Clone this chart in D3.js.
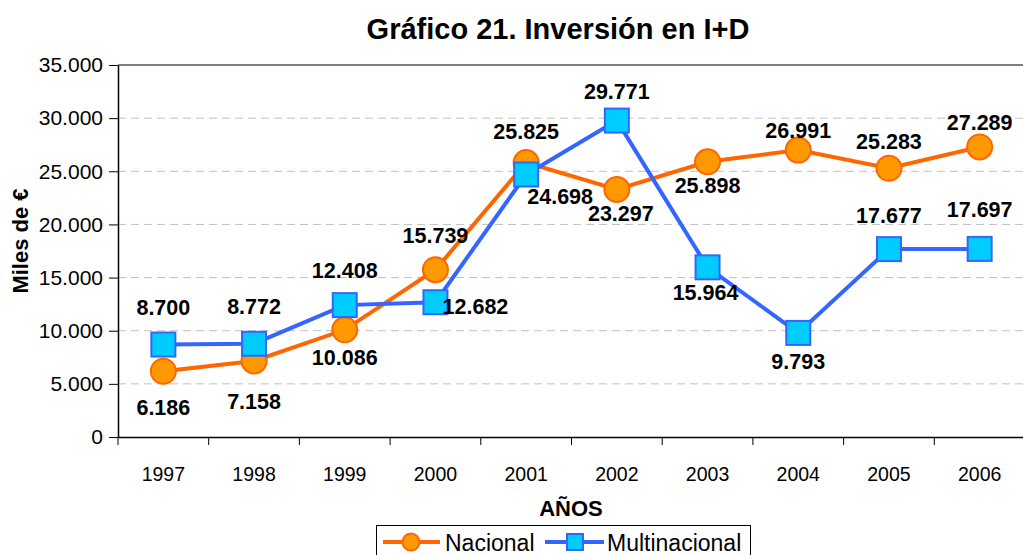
<!DOCTYPE html>
<html>
<head>
<meta charset="utf-8">
<script src="https://cdn.jsdelivr.net/npm/d3@7"></script>
<style>
  body { margin: 0; background: #fff; }
  svg { display: block; font-family: Arial, "Liberation Sans", sans-serif; }
</style>
</head>
<body>
<svg id="chart"></svg>
<script>
//------ Données ------
const years = ["1997", "1998", "1999", "2000", "2001", "2002", "2003", "2004", "2005", "2006"]
const nacional = [6186, 7158, 10086, 15739, 25825, 23297, 25898, 26991, 25283, 27289]
const multinacional = [8700, 8772, 12408, 12682, 24698, 29771, 15964, 9793, 17677, 17697]
const yTicks = [0, 5000, 10000, 15000, 20000, 25000, 30000, 35000]

// position des étiquettes (dx, dy) par point
const labelNac = [[0, 36], [0, 41], [0, 28], [0, -34], [0, -31], [4, 24], [0, 24], [0, -20], [0, -27], [0, -24]]
const labelMul = [[0, -37], [0, -37], [0, -35], [40, 4], [34, 22], [0, -29], [-2, 25], [0, 29], [0, -34], [0, -39]]

//taille du cadre
const width = 1023, height = 555
const margin = { left: 118, right: 1025, top: 65, bottom: 437 }

const svg = d3.select("#chart")
    .attr("width", width)
    .attr("height", height)

const fmt = d3.formatLocale({ decimal: ",", thousands: ".", grouping: [3], currency: ["", "€"] }).format(",d")

// échelles
const x = d3.scaleBand().domain(years).range([margin.left, margin.right])
const y = d3.scaleLinear().domain([0, 35000]).range([margin.bottom, margin.top])

// grille
svg.append("g")
    .selectAll("line")
    .data(yTicks.filter(t => t > 0 && t < 35000))
    .enter()
    .append("line")
    .attr("x1", margin.left).attr("x2", margin.right)
    .attr("y1", d => y(d)).attr("y2", d => y(d))
    .attr("stroke", "#c0c0c0")
    .attr("stroke-width", 1)
    .attr("stroke-dasharray", "8,5")

// bord supérieur
svg.append("line")
    .attr("x1", margin.left).attr("x2", margin.right)
    .attr("y1", y(35000)).attr("y2", y(35000))
    .attr("stroke", "#808080")
    .attr("stroke-width", 2)

// axe Y
const yAxis = svg.append("g")
    .attr("transform", `translate(${margin.left},0)`)
    .call(d3.axisLeft(y).tickValues(yTicks).tickFormat(fmt).tickSize(9).tickSizeOuter(0).tickPadding(6))
yAxis.select(".domain").attr("stroke", "#000").attr("stroke-width", 1.5)
yAxis.selectAll(".tick line").attr("stroke", "#000")
yAxis.selectAll("text").attr("font-size", 21).attr("fill", "#000")

// axe X
const xAxis = svg.append("g")
    .attr("transform", `translate(0,${margin.bottom})`)
    .call(d3.axisBottom(x).tickSize(0).tickPadding(30))
xAxis.select(".domain").attr("stroke", "#000").attr("stroke-width", 1.5)
xAxis.selectAll("text").attr("font-size", 19.5).attr("fill", "#000")
// ticks entre catégories
xAxis.selectAll(".sep")
    .data(years)
    .enter()
    .append("line")
    .attr("x1", d => x(d)).attr("x2", d => x(d))
    .attr("y1", 0).attr("y2", 8)
    .attr("stroke", "#000")

// titres
svg.append("text")
    .attr("x", 558).attr("y", 39)
    .attr("text-anchor", "middle")
    .attr("font-size", 29).attr("font-weight", "bold")
    .text("Gráfico 21. Inversión en I+D")

svg.append("text")
    .attr("x", 571).attr("y", 516)
    .attr("text-anchor", "middle")
    .attr("font-size", 22).attr("font-weight", "bold")
    .text("AÑOS")

svg.append("text")
    .attr("transform", "translate(28,241) rotate(-90)")
    .attr("text-anchor", "middle")
    .attr("font-size", 22).attr("font-weight", "bold")
    .text("Miles de €")

// lignes
const cx = d => x(d) + x.bandwidth() / 2
const line = d3.line().x((d, i) => cx(years[i])).y(d => y(d))

svg.append("path")
    .datum(nacional)
    .attr("fill", "none")
    .attr("stroke", "#FF6600")
    .attr("stroke-width", 4)
    .attr("d", line)

svg.append("path")
    .datum(multinacional)
    .attr("fill", "none")
    .attr("stroke", "#3366FF")
    .attr("stroke-width", 4)
    .attr("d", line)

// marqueurs
svg.append("g")
    .selectAll("circle")
    .data(nacional)
    .enter()
    .append("circle")
    .attr("cx", (d, i) => cx(years[i]))
    .attr("cy", d => y(d))
    .attr("r", 12.5)
    .attr("fill", "#FF9900")
    .attr("stroke", "#FF6600")
    .attr("stroke-width", 2)

svg.append("g")
    .selectAll("rect")
    .data(multinacional)
    .enter()
    .append("rect")
    .attr("x", (d, i) => cx(years[i]) - 12)
    .attr("y", d => y(d) - 12)
    .attr("width", 24).attr("height", 24)
    .attr("fill", "#00CCFF")
    .attr("stroke", "#3366FF")
    .attr("stroke-width", 2)

// étiquettes
function addLabels(values, offsets) {
    svg.append("g")
        .selectAll("text")
        .data(values)
        .enter()
        .append("text")
        .attr("x", (d, i) => cx(years[i]) + offsets[i][0])
        .attr("y", (d, i) => y(d) + offsets[i][1])
        .attr("dy", "0.35em")
        .attr("text-anchor", "middle")
        .attr("font-size", 21.5).attr("font-weight", "bold")
        .text(d => fmt(d))
}
addLabels(nacional, labelNac)
addLabels(multinacional, labelMul)

// légende
const lg = svg.append("g")
lg.append("rect")
    .attr("x", 376.5).attr("y", 525.5)
    .attr("width", 374).attr("height", 40)
    .attr("fill", "#fff").attr("stroke", "#000")
lg.append("line").attr("x1", 383).attr("x2", 440).attr("y1", 542).attr("y2", 542)
    .attr("stroke", "#FF6600").attr("stroke-width", 4)
lg.append("circle").attr("cx", 411).attr("cy", 542).attr("r", 8.5)
    .attr("fill", "#FF9900").attr("stroke", "#FF6600").attr("stroke-width", 2)
lg.append("text").attr("x", 445).attr("y", 551).attr("font-size", 23).text("Nacional")
lg.append("line").attr("x1", 545).attr("x2", 604).attr("y1", 542).attr("y2", 542)
    .attr("stroke", "#3366FF").attr("stroke-width", 4)
lg.append("rect").attr("x", 567).attr("y", 534).attr("width", 16).attr("height", 16)
    .attr("fill", "#00CCFF").attr("stroke", "#3366FF").attr("stroke-width", 2)
lg.append("text").attr("x", 607).attr("y", 551).attr("font-size", 23).text("Multinacional")
</script>
</body>
</html>
